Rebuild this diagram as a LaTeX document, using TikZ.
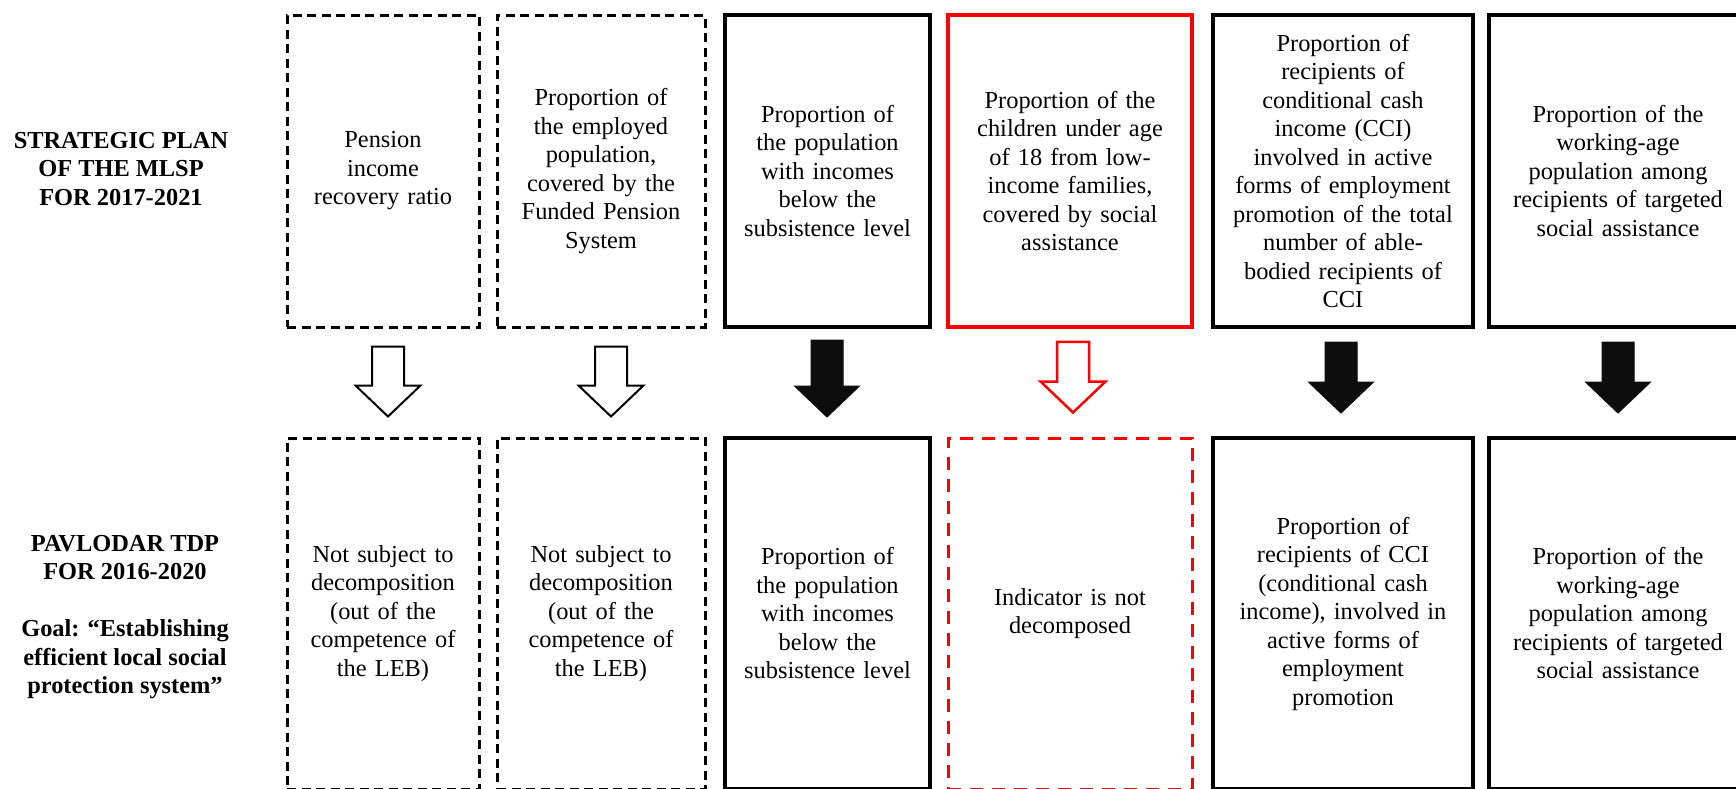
\documentclass[tikz,border=0pt]{standalone}
\usepackage{fontspec}
\setmainfont{Liberation Serif}
\usetikzlibrary{calc}
\tikzset{
 box/.style={rectangle, inner sep=0pt, align=center, text width=#1-12pt, minimum width=#1, font=\fontsize{24.4}{28.5}\selectfont},
 solidbox/.style={box=#1, draw=black, line width=4pt},
 dashbox/.style={box=#1, draw=black, line width=3pt, dash pattern=on 9pt off 5.5pt},
 redbox/.style={box=#1, draw=red, line width=3.5pt},
 reddashbox/.style={box=#1, draw=red, line width=3pt, dash pattern=on 13pt off 9pt},
 toprow/.style={minimum height=312pt},
 botrow/.style={minimum height=351pt},
 hollowarr/.style={draw=black, line width=2pt, fill=white, line join=miter},
 fillarr/.style={draw=black!95, fill=black!95, line width=1pt, line join=miter},
 redarr/.style={draw=red, line width=2.5pt, fill=white, line join=miter},
 sidelabel/.style={align=center, inner sep=0pt, font=\bfseries\fontsize{24.4}{28.5}\selectfont}
}
% #1 source node, #2 target node, #3 x shift, #4 gap below source, #5 gap above target, #6 style
\newcommand{\blockarrow}[6]{%
 \draw[#6] let \p1=(#1.south), \p2=(#2.north) in
  (\x1+#3-16pt, \y1-#4) -- (\x1+#3-16pt, \y2+#5+31pt) -- (\x1+#3-32.5pt, \y2+#5+31pt)
  -- (\x1+#3, \y2+#5) -- (\x1+#3+32.5pt, \y2+#5+31pt) -- (\x1+#3+16pt, \y2+#5+31pt)
  -- (\x1+#3+16pt, \y1-#4) -- cycle;
}
\begin{document}
\begin{tikzpicture}[x=1pt, y=-1pt]
\useasboundingbox (0,0) rectangle (1736,788);
\clip (0,0) rectangle (1736,788);
\fill[white] (0,0) rectangle (1736,788);

% side labels
\node[sidelabel] (lt) at (121,169) {STRATEGIC PLAN\\OF THE MLSP\\FOR 2017-2021};
\node[sidelabel] (lb) at (125,617) {PAVLODAR TDP\\FOR 2016-2020\\[28.5pt]Goal: “Establishing\\efficient local social\\protection system”};

% top row
\node[dashbox=192pt, toprow] (t1) at (383,171) {Pension\\income\\recovery ratio};
\node[dashbox=208pt, toprow] (t2) at (601,171) {Proportion of\\the employed\\population,\\covered by the\\Funded Pension\\System};
\node[solidbox=205pt, toprow] (t3) at (827.5,171) {Proportion of\\the population\\with incomes\\below the\\subsistence level};
\node[redbox=244pt, toprow] (t4) at (1070,171) {Proportion of the\\children under age\\of 18 from low-\\income families,\\covered by social\\assistance};
\node[solidbox=260pt, toprow] (t5) at (1343,171) {Proportion of\\recipients of\\conditional cash\\income (CCI)\\involved in active\\forms of employment\\promotion of the total\\number of able-\\bodied recipients of\\CCI};
\node[solidbox=258pt, toprow] (t6) at (1618,171) {Proportion of the\\working-age\\population among\\recipients of targeted\\social assistance};

% bottom row
\node[dashbox=192pt, botrow] (b1) at (383,613.5) {Not subject to\\decomposition\\(out of the\\competence of\\the LEB)};
\node[dashbox=208pt, botrow] (b2) at (601,613.5) {Not subject to\\decomposition\\(out of the\\competence of\\the LEB)};
\node[solidbox=205pt, botrow] (b3) at (827.5,613.5) {Proportion of\\the population\\with incomes\\below the\\subsistence level};
\node[reddashbox=244pt, botrow] (b4) at (1070,613.5) {Indicator is not\\decomposed};
\node[solidbox=260pt, botrow] (b5) at (1343,613.5) {Proportion of\\recipients of CCI\\(conditional cash\\income), involved in\\active forms of\\employment\\promotion};
\node[solidbox=258pt, botrow] (b6) at (1618,613.5) {Proportion of the\\working-age\\population among\\recipients of targeted\\social assistance};

% block arrows
\blockarrow{t1}{b1}{5pt}{18pt}{20pt}{hollowarr}
\blockarrow{t2}{b2}{10pt}{18pt}{20pt}{hollowarr}
\blockarrow{t3}{b3}{-0.5pt}{11pt}{19pt}{fillarr}
\blockarrow{t4}{b4}{3pt}{13pt}{24pt}{redarr}
\blockarrow{t5}{b5}{-2pt}{13pt}{23pt}{fillarr}
\blockarrow{t6}{b6}{0pt}{13pt}{23pt}{fillarr}
\end{tikzpicture}
\end{document}
